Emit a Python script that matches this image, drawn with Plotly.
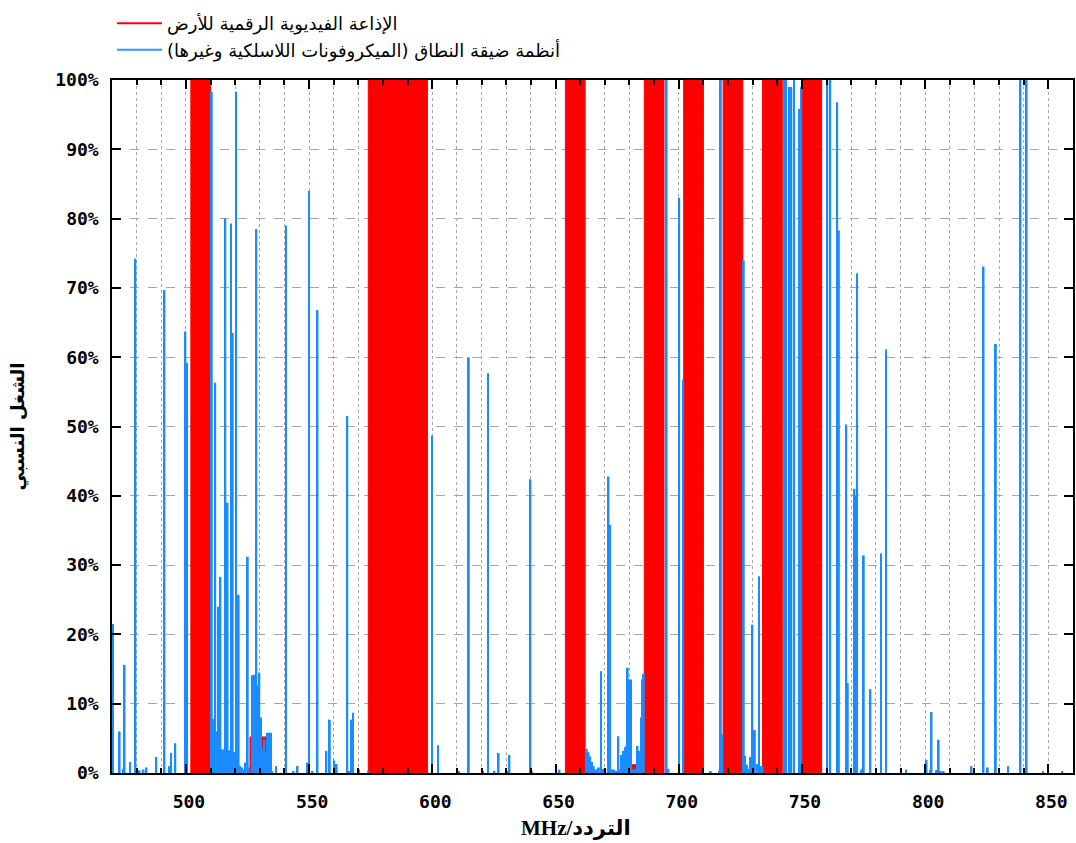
import plotly.graph_objects as go

# ---- DTT (red) : channel centres (MHz) and occupancy (%) ----
dtt_freq = [506, 530, 578, 586, 594, 658, 682, 690, 706, 722, 738, 754]
dtt_occ = [100, 5.2, 100, 100, 100, 100, 1.2, 100, 100, 100, 100, 100]

# ---- narrow-band systems (blue) : frequency (MHz) and occupancy (%) ----
nb_freq = [
    470.4, 473.1, 474.5, 475.1, 477.4, 479.5, 481.2, 482.8, 484.0, 488.0,
    491.3, 493.4, 494.0, 495.7, 499.8, 500.5,
    510.5, 511.2, 511.9, 512.6, 513.2, 514.0, 514.7, 515.4, 516.0, 516.9,
    517.5, 518.3, 519.0, 519.7, 520.4, 521.0, 521.4, 522.1, 522.8, 523.5,
    524.1, 525.1, 525.7, 527.1, 528.0, 528.6, 529.3, 529.8, 530.5, 531.2,
    531.8, 532.5, 533.2, 533.8, 534.5, 535.1, 536.6, 540.6, 543.7, 545.3,
    549.3,
    550.0, 551.4, 553.4, 557.0, 558.4, 560.2, 561.2, 565.5, 566.2, 567.2,
    567.8, 570.3, 573.9,
    599.9, 602.3, 610.8, 614.8, 620.6, 622.6, 625.2, 626.9, 630.3, 631.3,
    639.8, 640.4, 650.3, 651.6,
    662.7, 663.4, 664.1, 664.8, 665.5, 666.2, 666.9, 667.6, 668.5, 669.4,
    670.2, 671.5, 672.2, 672.9, 673.7, 674.7, 675.5, 676.2, 676.9, 677.6,
    678.3, 678.9, 679.3, 679.9, 680.6, 681.4, 682.1, 682.8, 683.3, 684.0,
    684.7, 685.3, 685.8,
    695.1, 695.8, 700.2, 701.8,
    713.0, 716.7, 717.1, 717.7,
    726.4, 726.9, 727.7, 728.4, 729.2, 729.9, 730.9, 731.8, 732.6, 733.4,
    734.0,
    742.8, 743.6, 745.1, 745.7, 746.8, 749.0, 749.7,
    760.3, 761.5, 764.3, 765.0, 768.0, 768.6, 771.3, 771.9, 772.4, 774.0,
    774.7, 775.1, 777.8, 782.1, 784.1, 792.2,
    800.6, 802.1, 802.6, 804.4, 805.1, 805.5, 806.3, 807.5, 818.8, 823.7,
    825.4, 828.7, 833.7, 838.7, 841.2, 847.8, 855.7,
]
nb_occ = [
    21.5, 6.0, 0.6, 15.6, 1.6, 74.2, 0.4, 0.5, 0.8, 2.3,
    69.7, 1.0, 2.9, 4.3, 63.7, 59.2,
    98.3, 7.8, 56.3, 6.0, 24.0, 28.3, 3.4, 3.4, 80.0, 39.0,
    3.3, 79.3, 63.5, 3.0, 98.3, 2.0, 25.7, 1.0, 0.8, 0.5,
    1.5, 31.2, 0.8, 14.1, 14.2, 78.5, 12.6, 14.5, 8.0, 3.5,
    4.8, 3.0, 5.8, 5.8, 5.8, 0.3, 1.0, 79.0, 0.3, 1.0,
    1.5,
    84.0, 0.3, 66.8, 3.2, 7.7, 1.8, 1.3, 51.5, 0.2, 7.7,
    8.7, 0.5, 0.2,
    48.7, 4.0, 0.3, 60.0, 0.3, 57.7, 0.3, 2.9, 0.2, 2.6,
    42.4, 0.3, 0.2, 0.5,
    3.5, 3.0, 2.4, 1.6, 1.0, 0.5, 0.5, 0.8, 14.7, 0.6,
    0.6, 42.8, 35.8, 0.5, 0.5, 0.3, 5.3, 0.5, 2.6, 3.2,
    3.7, 3.9, 15.2, 13.5, 13.5, 0.5, 0.5, 0.5, 3.9, 3.2,
    8.0, 13.5, 14.3,
    100, 0.6, 83.0, 56.8,
    0.2, 0.3, 100, 5.6,
    74.0, 2.5, 1.2, 0.6, 2.3, 21.4, 6.2, 1.3, 28.4, 1.0,
    1.0,
    100, 100, 99, 99, 100, 95.8, 99,
    100, 100, 96.8, 78.3, 50.3, 13.0, 41.0, 40.0, 72.1, 0.4,
    0.6, 31.4, 12.1, 31.7, 61.1, 0.5,
    1.9, 0.4, 8.8, 0.4, 0.4, 4.8, 0.3, 0.2, 1.0, 73.1,
    0.8, 61.9, 1.0, 100, 100, 0.3, 0.3,
]

x_ticks = [500, 550, 600, 650, 700, 750, 800, 850]
y_ticks = [0, 10, 20, 30, 40, 50, 60, 70, 80, 90, 100]
y_ticktext = [f"{v}%" for v in y_ticks]

name_dtt = "الإذاعة الفيديوية الرقمية للأرض"
name_nb = "أنظمة ضيقة النطاق (الميكروفونات اللاسلكية وغيرها)\u200f"
x_title = "MHz/التردد"
y_title = "الشغل النسبي"

RED = "#ff0000"
BLUE = "#1a8cff"

fig = go.Figure()
fig.add_trace(go.Bar(x=dtt_freq, y=dtt_occ, width=8, marker=dict(color=RED, line=dict(width=1, color=RED)),
                     showlegend=False, hoverinfo="skip"))
fig.add_trace(go.Bar(x=nb_freq, y=nb_occ, width=0.75, marker=dict(color=BLUE, line=dict(width=0)),
                     showlegend=False, hoverinfo="skip"))
# legend samples (line style, like the original key)
fig.add_trace(go.Scatter(x=[None], y=[None], mode="lines", line=dict(color=RED, width=2), name=name_dtt))
fig.add_trace(go.Scatter(x=[None], y=[None], mode="lines", line=dict(color="#3399ff", width=2), name=name_nb))

tickfont = dict(family="DejaVu Sans Mono", size=18, color="black", weight="bold")
gridc = "#a6a6a6"

fig.update_layout(
    width=1076, height=843,
    margin=dict(l=112, r=1, t=80, b=70),
    paper_bgcolor="white", plot_bgcolor="white",
    barmode="overlay",
    showlegend=True,
    legend=dict(x=0, y=1.108, xanchor="left", yanchor="top", bgcolor="rgba(0,0,0,0)",
                font=dict(family="DejaVu Sans", size=18, color="black"),
                itemwidth=45, tracegroupgap=0),
    xaxis=dict(
        range=[470, 860], tickvals=x_ticks, ticks="inside", ticklen=9, tickwidth=1.5,
        tickcolor="black", showline=True, linecolor="black", linewidth=1.5, mirror="ticks",
        showgrid=True, gridcolor=gridc, griddash="dot", gridwidth=1,
        minor=dict(dtick=10, tick0=470, ticks="inside", ticklen=5, tickcolor="black",
                   showgrid=True, gridcolor=gridc, griddash="dot", gridwidth=1),
        tickfont=tickfont, ticklabelstandoff=12, ticklabelshift=3, zeroline=False,
    ),
    yaxis=dict(
        range=[0, 100], tickvals=y_ticks, ticktext=y_ticktext, ticks="inside", ticklen=9, tickwidth=1.5,
        tickcolor="black", showline=True, linecolor="black", linewidth=1.5, mirror="ticks",
        showgrid=True, gridcolor=gridc, griddash="dash", gridwidth=1, zeroline=False,
        tickfont=tickfont, ticklabelstandoff=8,
        title=dict(text=f"<b>{y_title}</b>", font=dict(family="DejaVu Sans", size=18, color="black"),
                   standoff=26),
    ),
    annotations=[dict(
        text=f"<b>{x_title}</b>", xref="paper", yref="paper", x=0.483, y=-0.08,
        xanchor="center", yanchor="middle", showarrow=False,
        font=dict(family="Liberation Serif, DejaVu Sans", size=21, color="black"),
    )],
)

fig.write_html("out.html")
